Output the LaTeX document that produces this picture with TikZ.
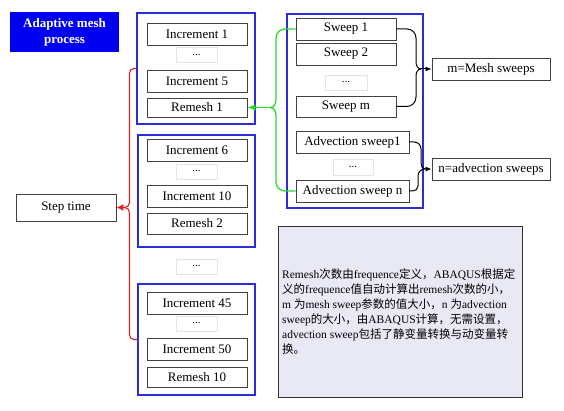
\documentclass[tikz,border=0pt]{standalone}
\usepackage{fontspec}
\setmainfont{Liberation Serif}
\newfontfamily\cjk{Noto Sans CJK SC}
\usetikzlibrary{arrows.meta}
\definecolor{frameblue}{RGB}{45,45,215}
\definecolor{titleblue}{RGB}{0,0,240}
\definecolor{bracered}{RGB}{230,30,30}
\definecolor{bracegreen}{RGB}{40,220,40}
\definecolor{notefill}{RGB}{233,233,246}
\tikzset{
  box/.style={draw=black!75,line width=0.9pt,inner sep=0pt,minimum width=100pt,minimum height=22pt,font=\fontsize{13}{15}\selectfont},
  dotbox/.style={draw=black!10,line width=0.6pt,inner sep=0pt,minimum width=41pt,minimum height=15pt,font=\fontsize{11}{13}\selectfont},
  grpframe/.style={draw=frameblue,line width=1.1pt,inner sep=0pt},
  redbrace/.style={draw=bracered,line width=1.1pt},
  greenbrace/.style={draw=bracegreen,line width=1.3pt},
  blackbrace/.style={draw=black,line width=1pt}
}
\begin{document}
\begin{tikzpicture}[x=1pt,y=1pt]
  \useasboundingbox (0,0) rectangle (564,-411);
  % blue frames
  \node[grpframe,minimum width=118pt,minimum height=111pt] (g1) at (196,-68.5) {};
  \node[grpframe,minimum width=117pt,minimum height=112pt] (g2) at (196.5,-191) {};
  \node[grpframe,minimum width=117pt,minimum height=111pt] (g3) at (196.5,-339.5) {};
  \node[grpframe,minimum width=136pt,minimum height=194pt] (gs) at (355,-111) {};
  % title and step time
  \node[fill=titleblue,text=white,inner sep=0pt,minimum width=109pt,minimum height=40pt,align=center,
    font=\fontsize{13}{16}\selectfont\bfseries] (title) at (64.5,-32) {Adaptive mesh\\process};
  \node[box,minimum height=27pt] (step) at (66,-207.5) {Step time};
  % increments
  \node[box] (i1) at (197,-34.5) {Increment 1};
  \node[dotbox] (d1) at (196.5,-55) {...};
  \node[box] (i5) at (197,-81) {Increment 5};
  \node[box,minimum height=19pt] (r1) at (197,-107.5) {Remesh 1};
  \node[box] (i6) at (197,-150.5) {Increment 6};
  \node[dotbox] (d2) at (196.5,-171.5) {...};
  \node[box] (i10) at (197,-196.5) {Increment 10};
  \node[box,minimum height=21pt] (r2) at (197,-223.5) {Remesh 2};
  \node[dotbox] (dm) at (196.5,-266.5) {...};
  \node[box] (i45) at (197,-303.5) {Increment 45};
  \node[dotbox] (d3) at (196.5,-323.5) {...};
  \node[box] (i50) at (197,-349.5) {Increment 50};
  \node[box,minimum height=20pt] (r10) at (197,-377) {Remesh 10};
  % sweeps
  \node[box] (s1) at (346,-29) {Sweep 1};
  \node[box] (s2) at (346,-54) {Sweep 2};
  \node[dotbox,minimum width=42pt] (ds) at (346,-82.5) {...};
  \node[box,minimum height=21pt] (sm) at (346,-106.5) {Sweep m};
  \node[box,minimum width=113pt] (a1) at (352.5,-142) {Advection sweep1};
  \node[dotbox,minimum width=40pt,minimum height=16pt] (da) at (353,-167) {...};
  \node[box,minimum width=113pt] (an) at (352.5,-191) {Advection sweep n};
  \node[box,minimum width=118pt] (msh) at (491,-69) {m=Mesh sweeps};
  \node[box,minimum width=118pt] (nad) at (491,-169) {n=advection sweeps};
  % note
  \node[draw=black!80,fill=notefill,line width=0.9pt,inner sep=0pt,minimum width=244pt,minimum height=171pt] (note) at (400,-311.5) {};
  \node[anchor=west,align=left,inner sep=0pt,font=\fontsize{11.5}{15}\selectfont] (notetext) at (282,-311.5)
    {Remesh{\cjk 次数由}frequence{\cjk 定义，}ABAQUS{\cjk 根据定}\\
     {\cjk 义的}frequence{\cjk 值自动计算出}remesh{\cjk 次数的小，}\\
     m {\cjk 为}mesh sweep{\cjk 参数的值大小，}n {\cjk 为}advection\\
     sweep{\cjk 的大小，由}ABAQUS{\cjk 计算，无需设置，}\\
     advection sweep{\cjk 包括了静变量转换与动变量转}\\
     {\cjk 换。}};
  % red brace
  \coordinate (rcusp) at (125,-207.5);
  \draw[redbrace] (g1.west) -- (134,-68.5) to[out=180,in=90] (129.5,-73) -- (129.5,-202) to[out=-90,in=0] (rcusp);
  \draw[redbrace] (g3.west) -- (134,-339.5) to[out=180,in=-90] (129.5,-335) -- (129.5,-213) to[out=90,in=0] (rcusp);
  \draw[redbrace,-{Latex[length=7pt,width=7pt]}] (rcusp) -- (step.east);
  % green brace
  \coordinate (gcusp) at (270,-107.5);
  \draw[greenbrace] (s1.west) -- (285,-29) to[out=180,in=90] (276,-38) -- (276,-100) to[out=-90,in=0] (gcusp);
  \draw[greenbrace] (an.west) -- (285,-191) to[out=180,in=-90] (276,-182) -- (276,-115) to[out=90,in=0] (gcusp);
  \draw[greenbrace,-{Latex[length=8pt,width=7pt]}] (gcusp) -- (r1.east);
  % black braces
  \coordinate (mcusp) at (421,-69);
  \draw[blackbrace] (s1.east) -- (407,-29) to[out=0,in=90] (416,-38) -- (416,-62) to[out=-90,in=180] (mcusp);
  \draw[blackbrace] (sm.east) -- (407,-106.5) to[out=0,in=-90] (416,-97) -- (416,-76) to[out=90,in=180] (mcusp);
  \draw[blackbrace,-{Latex[length=6pt,width=5pt]}] (mcusp) -- (msh.west);
  \coordinate (ncusp) at (425,-169);
  \draw[blackbrace] (a1.east) -- (414,-142) to[out=0,in=90] (421,-149) -- (421,-163) to[out=-90,in=180] (ncusp);
  \draw[blackbrace] (an.east) -- (413,-191) to[out=0,in=-90] (418,-186) -- (418,-176) to[out=90,in=180] (ncusp);
  \draw[blackbrace,-{Latex[length=6pt,width=5pt]}] (ncusp) -- (nad.west);
\end{tikzpicture}
\end{document}
